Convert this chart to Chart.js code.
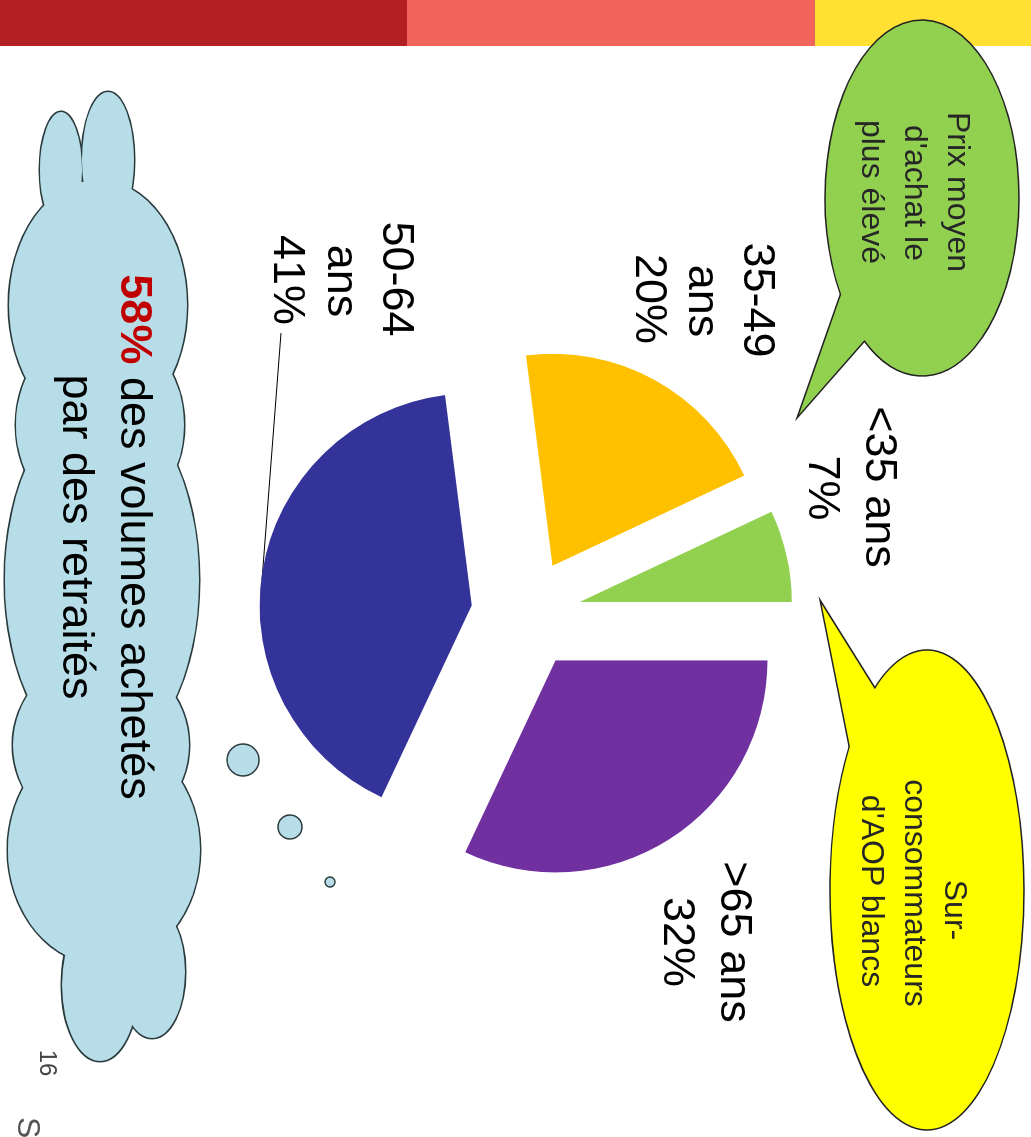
<!DOCTYPE html>
<html lang="fr">
<head>
<meta charset="utf-8">
<title>Volumes achetés par tranche d'âge</title>
<script src="https://cdn.jsdelivr.net/npm/chart.js@4.4.1/dist/chart.umd.min.js"></script>
<style>
    html, body { margin: 0; padding: 0; background: #fff; overflow: hidden; }
    body { width: 1031px; height: 1137px; position: relative; }
    /* La diapositiva se dibuja en horizontal y se gira 90° */
    #slide {
        position: absolute; left: 0; top: 0;
        width: 1137px; height: 1031px;
        transform-origin: 0 0;
        transform: translate(1031px, 0) rotate(90deg);
    }
    #slide canvas { position: absolute; left: 0; top: 0; }
    .txt {
        position: absolute;
        white-space: nowrap;
        line-height: 0;
        font-family: 'Liberation Sans', Arial, sans-serif;
        color: #000;
    }
    .center { transform: translateX(-50%); }
</style>
</head>
<body>
<div id="slide">
    <canvas id="ageChart" width="1137" height="1031"></canvas>
    <div id="textLayer"></div>
</div>
<script>
// Datos del gráfico
const ageGroups = ['>65 ans', '50-64 ans', '35-49 ans', '<35 ans'];
const volumeShares = [32, 41, 20, 7];
const retiredShare = 58;

// Colores de cada porción
const sliceColors = ['#7030A0', '#333399', '#FFC000', '#92D050'];

// Separación de las porciones (px)
const EXPLODE = 55;

// Posición de las etiquetas de cada porción: centro (u) y línea base (v) de cada línea
const sliceLabelLayout = [
    { wrap: false, u: [942, 942], v: [311, 368] },
    { wrap: true, u: [279, 281, 280], v: [649, 704, 758] },
    { wrap: true, u: [300, 301, 299], v: [288, 343, 396] },
    { wrap: false, u: [487, 488], v: [166, 223] }
];

// Lóbulos de la nube: [u, v, radioU, radioV]
const cloudLobes = [
    [170, 970, 58, 21],
    [160, 923, 68, 26],
    [305, 933, 125, 89],
    [425, 931, 100, 84],
    [580, 929, 180, 97],
    [745, 930, 90, 88],
    [850, 927, 115, 96],
    [985, 931, 76, 38],
    [972, 879, 66, 33]
];

// Burbujas pequeñas de la nube: [u, v, radio]
const cloudDots = [[760, 788, 16], [827, 741, 12], [882, 701, 5]];

// Dibuja un bocadillo (elipse con cola)
function drawBubble(ctx, b) {
    const a1 = Math.atan2((b.base1[1] - b.cy) / b.ry, (b.base1[0] - b.cx) / b.rx);
    const a2 = Math.atan2((b.base2[1] - b.cy) / b.ry, (b.base2[0] - b.cx) / b.rx);
    ctx.beginPath();
    ctx.ellipse(b.cx, b.cy, b.rx, b.ry, 0, a1, a2);
    ctx.lineTo(b.tip[0], b.tip[1]);
    ctx.closePath();
    ctx.fillStyle = b.color;
    ctx.fill();
    ctx.lineWidth = 1.5;
    ctx.strokeStyle = '#222';
    ctx.stroke();
}

// Plugin para el fondo: banda de colores, bocadillos, nube y línea guía
const slideDecorPlugin = {
    id: 'slideDecor',
    beforeDraw(chart) {
        const ctx = chart.ctx;
        ctx.save();

        // Banda de colores a la izquierda
        ctx.fillStyle = '#FFE033';
        ctx.fillRect(0, 0, 46, 216);
        ctx.fillStyle = '#F0645C';
        ctx.fillRect(0, 216, 46, 408);
        ctx.fillStyle = '#B32024';
        ctx.fillRect(0, 624, 46, 407);

        // Bocadillos
        drawBubble(ctx, { cx: 198, cy: 109, rx: 178, ry: 97, base1: [303, 198], base2: [352, 171], tip: [418, 234], color: '#92D050' });
        drawBubble(ctx, { cx: 890, cy: 104, rx: 240, ry: 97, base1: [677, 159], base2: [730, 191], tip: [600, 211], color: '#FFFF00' });

        // Nube: primero el contorno de cada lóbulo, luego el relleno encima
        ctx.lineWidth = 3;
        ctx.strokeStyle = '#2a3a3c';
        cloudLobes.forEach(l => {
            ctx.beginPath();
            ctx.ellipse(l[0], l[1], l[2], l[3], 0, 0, Math.PI * 2);
            ctx.stroke();
        });
        ctx.fillStyle = '#B7DEE8';
        cloudLobes.forEach(l => {
            ctx.beginPath();
            ctx.ellipse(l[0], l[1], l[2], l[3], 0, 0, Math.PI * 2);
            ctx.fill();
        });
        ctx.lineWidth = 1.5;
        cloudDots.forEach(d => {
            ctx.beginPath();
            ctx.arc(d[0], d[1], d[2], 0, Math.PI * 2);
            ctx.fill();
            ctx.stroke();
        });

        // Línea guía de la etiqueta 50-64 ans
        ctx.beginPath();
        ctx.moveTo(333, 750);
        ctx.lineTo(580, 769);
        ctx.lineWidth = 1.2;
        ctx.strokeStyle = '#000';
        ctx.stroke();

        ctx.restore();
    }
};

// Plugin para separar las porciones a lo largo de su ángulo medio
const explodePlugin = {
    id: 'explode',
    beforeDatasetDraw(chart, args) {
        const ctx = chart.ctx;
        args.meta.data.forEach(arc => {
            const mid = (arc.startAngle + arc.endAngle) / 2;
            ctx.save();
            ctx.translate(Math.cos(mid) * EXPLODE, Math.sin(mid) * EXPLODE);
            arc.draw(ctx);
            ctx.restore();
        });
        return false;
    }
};

// Añade un texto con su línea base en v
function addText(parent, html, u, v, size, opts = {}) {
    const el = document.createElement('div');
    el.className = 'txt' + (opts.left ? '' : ' center');
    el.style.left = u + 'px';
    el.style.top = (v - size * 0.3465) + 'px';
    el.style.fontSize = size + 'px';
    if (opts.color) el.style.color = opts.color;
    el.innerHTML = html;
    parent.appendChild(el);
    return el;
}

function escapeHtml(s) {
    return s.replace(/&/g, '&amp;').replace(/</g, '&lt;').replace(/>/g, '&gt;');
}

// Función para inicializar la diapositiva
function initSlide() {
    console.log('Inicializando diapositiva...');
    try {
        if (typeof Chart === 'undefined') {
            console.error('Chart.js no está disponible');
            return;
        }

        const ctx = document.getElementById('ageChart').getContext('2d');
        window.ageChartInstance = new Chart(ctx, {
            type: 'pie',
            data: {
                labels: ageGroups,
                datasets: [{
                    data: volumeShares,
                    backgroundColor: sliceColors,
                    borderWidth: 0,
                    radius: 212
                }]
            },
            options: {
                responsive: false,
                animation: false,
                events: [],
                devicePixelRatio: 1,
                layout: { padding: { left: 91, right: 0, top: 0, bottom: 21 } },
                plugins: {
                    legend: { display: false },
                    tooltip: { enabled: false }
                }
            },
            plugins: [slideDecorPlugin, explodePlugin]
        });

        const layer = document.getElementById('textLayer');

        // Etiquetas de las porciones
        ageGroups.forEach((name, i) => {
            const pos = sliceLabelLayout[i];
            const lines = (pos.wrap ? name.split(' ') : [name]).concat(volumeShares[i] + '%');
            lines.forEach((line, j) => addText(layer, escapeHtml(line), pos.u[j], pos.v[j], 45));
        });

        // Textos de los bocadillos
        addText(layer, 'Prix moyen', 192, 83, 32, { color: '#262626' });
        addText(layer, 'd\'achat le', 193, 126, 32, { color: '#262626' });
        addText(layer, 'plus élevé', 192, 169, 32, { color: '#262626' });
        addText(layer, 'Sur-', 910, 86, 32, { color: '#262626' });
        addText(layer, 'consommateurs', 893, 126, 32, { color: '#262626' });
        addText(layer, 'd\'AOP blancs', 891, 169, 32, { color: '#262626' });

        // Texto de la nube
        addText(layer, '<span style="color:#C00000;font-weight:bold">' + retiredShare + '%</span> des volumes achetés', 537, 911, 45);
        addText(layer, 'par des retraités', 537, 969, 45);

        // Pie de página
        addText(layer, '16', 1063, 991, 24, { color: '#444' });
        addText(layer, 'S', 1117, 1013, 32, { color: '#555', left: true });

        console.log('Diapositiva inicializada correctamente');
    } catch (error) {
        console.error('Error al inicializar la diapositiva:', error);
    }
}

if (document.readyState === 'loading') {
    document.addEventListener('DOMContentLoaded', initSlide);
} else {
    initSlide();
}
</script>
</body>
</html>
